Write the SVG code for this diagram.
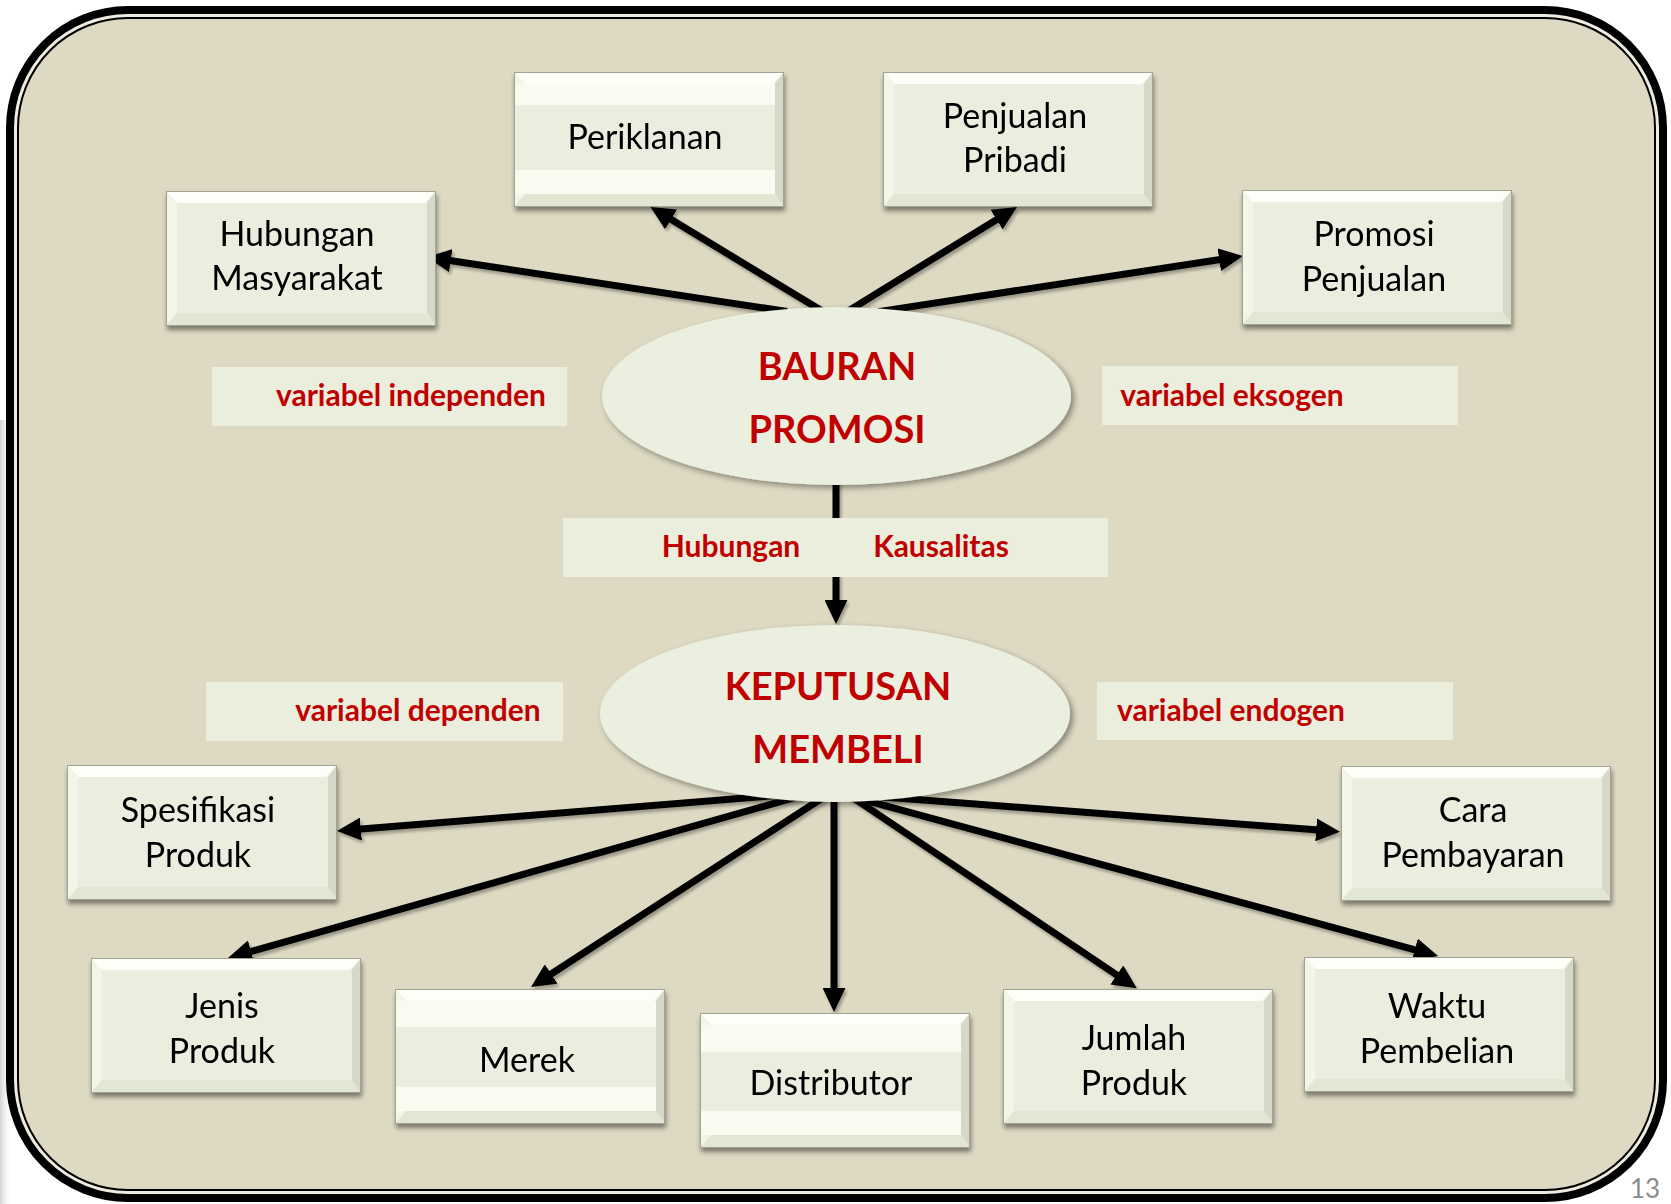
<svg xmlns="http://www.w3.org/2000/svg" xmlns:xlink="http://www.w3.org/1999/xlink" width="1671" height="1204" viewBox="0 0 1671 1204">
  <defs>
    <style>
      .t { font-family: Lato, "Open Sans", "Liberation Sans", sans-serif; font-size: 34px; fill: #000; text-anchor: middle; }
      .lbl { font-family: Lato, "Open Sans", "Liberation Sans", sans-serif; font-size: 30px; font-weight: 700; fill: #C00000; text-anchor: middle; }
      .big { font-family: Lato, "Open Sans", "Liberation Sans", sans-serif; font-size: 38px; font-weight: 700; fill: #C00000; text-anchor: middle; }
      .lblbg { fill: #EBEEDD; }
      .ell { fill: #EBEFDF; }
      .band-light { fill: #F8FBEF; }
      .band-mid { fill: #EBEEDE; }
      .conn { fill: none; stroke: #000; stroke-width: 7; marker-end: url(#ah); }
    </style>
    <marker id="ah" markerUnits="userSpaceOnUse" markerWidth="24" markerHeight="23" viewBox="0 0 24 23" refX="6" refY="11.5" orient="auto">
      <path d="M0,0 L24,11.5 L0,23 z" fill="#000"/>
    </marker>
    <filter id="lineShadow" x="-10%" y="-10%" width="120%" height="130%">
      <feGaussianBlur in="SourceAlpha" stdDeviation="1.5"/>
      <feOffset dx="2" dy="2.5" result="o"/>
      <feComponentTransfer><feFuncA type="linear" slope="0.3"/></feComponentTransfer>
      <feMerge><feMergeNode/><feMergeNode in="SourceGraphic"/></feMerge>
    </filter>
    <filter id="boxShadow" x="-10%" y="-10%" width="125%" height="130%">
      <feGaussianBlur in="SourceAlpha" stdDeviation="2.5"/>
      <feOffset dx="1" dy="4" result="o"/>
      <feComponentTransfer><feFuncA type="linear" slope="0.45"/></feComponentTransfer>
      <feMerge><feMergeNode/><feMergeNode in="SourceGraphic"/></feMerge>
    </filter>
    <filter id="ellShadow" x="-10%" y="-10%" width="125%" height="130%">
      <feGaussianBlur in="SourceAlpha" stdDeviation="3"/>
      <feOffset dx="3" dy="3" result="o"/>
      <feComponentTransfer><feFuncA type="linear" slope="0.4"/></feComponentTransfer>
      <feMerge><feMergeNode/><feMergeNode in="SourceGraphic"/></feMerge>
    </filter>
    <linearGradient id="edgeFade" x1="0" y1="0" x2="1" y2="0">
      <stop offset="0" stop-color="#c8c8c8" stop-opacity="0.8"/>
      <stop offset="1" stop-color="#ffffff" stop-opacity="0"/>
    </linearGradient>
    <!-- bevelled rectangle used by every item box (270 x 135) -->
    <g id="bevelBox">
      <rect width="270" height="135" fill="#EBEEDE"/>
      <polygon points="0,0 270,0 259,12 11,12" fill="#FDFEF8"/>
      <polygon points="0,0 11,12 11,122 0,135" fill="#F2F5E8"/>
      <polygon points="270,0 270,135 261,122 261,12" fill="#D6D9C8"/>
      <polygon points="0,135 11,122 261,122 270,135" fill="#E2E6D3"/>
      <rect x="0.5" y="0.5" width="269" height="134" fill="none" stroke="#A3A594" stroke-width="1"/>
    </g>
  </defs>

  <!-- page background -->
  <rect width="1671" height="1204" fill="#FFFFFF"/>
  <rect x="0" y="420" width="12" height="784" fill="url(#edgeFade)"/>

  <!-- outer frame: thick-thin double border -->
  <g id="frame">
    <rect x="10" y="10" width="1653" height="1188" rx="118" ry="118" fill="#EEECE1" stroke="#000" stroke-width="8"/>
    <rect x="18" y="18" width="1637" height="1172" rx="110" ry="110" fill="#DDD9C3" stroke="#000" stroke-width="2"/>
  </g>

  <!-- connectors -->
  <g id="connectors" filter="url(#lineShadow)">
    <!-- Bauran Promosi to the four promotion tools -->
    <line class="conn" x1="787" y1="311.5" x2="444.8" y2="259.7"/>
    <line class="conn" x1="823.9" y1="312.1" x2="665.9" y2="216.3"/>
    <line class="conn" x1="846.2" y1="312.2" x2="1001.7" y2="216.4"/>
    <line class="conn" x1="878.5" y1="311.6" x2="1225.2" y2="258.7"/>
    <!-- causal link -->
    <line class="conn" x1="836" y1="478" x2="836" y2="606"/>
    <!-- Keputusan Membeli to the seven decision items -->
    <line class="conn" x1="790" y1="794.3" x2="354.9" y2="829.5"/>
    <line class="conn" x1="805" y1="794.7" x2="245.3" y2="953.1"/>
    <line class="conn" x1="825" y1="796.3" x2="546.1" y2="977.2"/>
    <line class="conn" x1="834" y1="795" x2="834" y2="994"/>
    <line class="conn" x1="850" y1="795.6" x2="1121.8" y2="978.3"/>
    <line class="conn" x1="850" y1="796.2" x2="1420.6" y2="951.3"/>
    <line class="conn" x1="880" y1="796.8" x2="1322.1" y2="830.3"/>
  </g>

  <!-- promotion mix items -->
  <g id="n-hubungan-masyarakat" filter="url(#boxShadow)">
    <use href="#bevelBox" x="166" y="191"/>
    <text class="t" x="297" y="246">Hubungan</text>
    <text class="t" x="297" y="290">Masyarakat</text>
  </g>
  <g id="n-periklanan" filter="url(#boxShadow)">
    <use href="#bevelBox" x="514" y="72"/>
    <rect class="band-light" x="515" y="84" width="260" height="110"/>
    <rect class="band-mid" x="515" y="105" width="260" height="65"/>
    <text class="t" x="645" y="149">Periklanan</text>
  </g>
  <g id="n-penjualan-pribadi" filter="url(#boxShadow)">
    <use href="#bevelBox" x="883" y="72"/>
    <text class="t" x="1015" y="128">Penjualan</text>
    <text class="t" x="1015" y="172">Pribadi</text>
  </g>
  <g id="n-promosi-penjualan" filter="url(#boxShadow)">
    <use href="#bevelBox" x="1242" y="190"/>
    <text class="t" x="1374" y="246">Promosi</text>
    <text class="t" x="1374" y="291">Penjualan</text>
  </g>

  <!-- purchase decision items -->
  <g id="n-spesifikasi-produk" filter="url(#boxShadow)">
    <use href="#bevelBox" x="67" y="765"/>
    <text class="t" x="198" y="822">Spesifikasi</text>
    <text class="t" x="198" y="867">Produk</text>
  </g>
  <g id="n-jenis-produk" filter="url(#boxShadow)">
    <use href="#bevelBox" x="91" y="958"/>
    <text class="t" x="222" y="1018">Jenis</text>
    <text class="t" x="222" y="1063">Produk</text>
  </g>
  <g id="n-merek" filter="url(#boxShadow)">
    <use href="#bevelBox" x="395" y="989"/>
    <rect class="band-light" x="396" y="1001" width="260" height="110"/>
    <rect class="band-mid" x="396" y="1027" width="260" height="60"/>
    <text class="t" x="527" y="1072">Merek</text>
  </g>
  <g id="n-distributor" filter="url(#boxShadow)">
    <use href="#bevelBox" x="700" y="1013"/>
    <rect class="band-light" x="701" y="1025" width="260" height="110"/>
    <rect class="band-mid" x="701" y="1052" width="260" height="59"/>
    <text class="t" x="831" y="1095">Distributor</text>
  </g>
  <g id="n-jumlah-produk" filter="url(#boxShadow)">
    <use href="#bevelBox" x="1003" y="989"/>
    <text class="t" x="1134" y="1050">Jumlah</text>
    <text class="t" x="1134" y="1095">Produk</text>
  </g>
  <g id="n-waktu-pembelian" filter="url(#boxShadow)">
    <use href="#bevelBox" x="1304" y="957"/>
    <text class="t" x="1437" y="1018">Waktu</text>
    <text class="t" x="1437" y="1063">Pembelian</text>
  </g>
  <g id="n-cara-pembayaran" filter="url(#boxShadow)">
    <use href="#bevelBox" x="1341" y="766"/>
    <text class="t" x="1473" y="822">Cara</text>
    <text class="t" x="1473" y="867">Pembayaran</text>
  </g>

  <!-- central variables -->
  <g id="n-bauran-promosi">
    <ellipse class="ell" cx="836.5" cy="396" rx="234.5" ry="89" filter="url(#ellShadow)"/>
    <text class="big" x="837" y="380">BAURAN</text>
    <text class="big" x="837" y="443">PROMOSI</text>
  </g>
  <g id="n-keputusan-membeli">
    <ellipse class="ell" cx="835" cy="713.5" rx="235" ry="88.5" filter="url(#ellShadow)"/>
    <text class="big" x="838" y="700">KEPUTUSAN</text>
    <text class="big" x="838" y="763">MEMBELI</text>
  </g>

  <!-- variable type labels -->
  <g id="lbl-independen">
    <rect class="lblbg" x="212" y="367" width="355" height="59"/>
    <text class="lbl" x="411" y="406">variabel independen</text>
  </g>
  <g id="lbl-eksogen">
    <rect class="lblbg" x="1102" y="366" width="356" height="59"/>
    <text class="lbl" x="1232" y="406">variabel eksogen</text>
  </g>
  <g id="lbl-kausalitas">
    <rect class="lblbg" x="563" y="518" width="545" height="59"/>
    <text class="lbl" x="731" y="557">Hubungan</text>
    <text class="lbl" x="941" y="557">Kausalitas</text>
  </g>
  <g id="lbl-dependen">
    <rect class="lblbg" x="206" y="682" width="357" height="59"/>
    <text class="lbl" x="418" y="721">variabel dependen</text>
  </g>
  <g id="lbl-endogen">
    <rect class="lblbg" x="1097" y="682" width="356" height="58"/>
    <text class="lbl" x="1231" y="721">variabel endogen</text>
  </g>

  <!-- slide number -->
  <text x="1645" y="1198" font-family="Lato, 'Open Sans', 'Liberation Sans', sans-serif" font-size="26" fill="#8C8C8C" text-anchor="middle">13</text>
</svg>
